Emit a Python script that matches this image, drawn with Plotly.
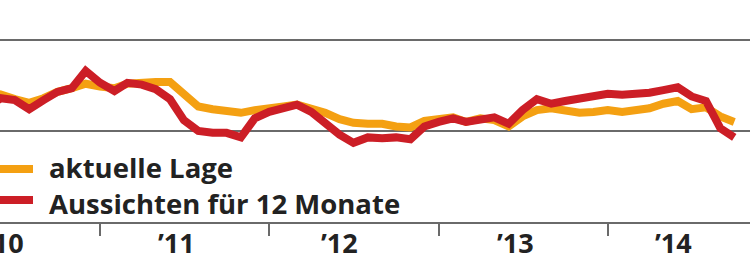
import pandas as pd
import plotly.graph_objects as go

# Monthly observations, May 2010 .. Oct 2014
months = pd.date_range("2010-05-01", "2014-10-01", freq="MS")

aktuelle_lage = [13.2, 14.0, 13.5, 13.1, 13.6, 14.3, 14.7, 15.2, 14.9, 14.7, 15.2, 15.4, 15.4,
                 15.4, 14.0, 12.7, 12.4, 12.2, 12.0, 12.3, 12.6, 12.7, 12.9, 12.5, 12.0,
                 11.3, 10.9, 10.8, 10.8, 10.5, 10.4, 11.1, 11.4, 11.5, 11.0, 11.4, 11.2,
                 10.5, 11.6, 12.3, 12.5, 12.2, 12.0, 12.1, 12.3, 12.1, 12.2, 12.5, 13.0,
                 13.3, 12.4, 12.6, 11.6, 11.0]
aussichten = [12.6, 13.6, 13.4, 12.4, 13.4, 14.3, 14.7, 16.6, 15.3, 14.4, 15.3, 15.1, 14.6,
              13.5, 11.2, 10.0, 9.8, 9.8, 9.3, 11.4, 12.1, 12.5, 12.9, 12.1, 10.9,
              9.6, 8.7, 9.3, 9.2, 9.3, 9.1, 10.5, 11.0, 11.4, 11.0, 11.2, 11.5,
              10.8, 12.3, 13.5, 13.0, 13.3, 13.6, 13.8, 14.1, 14.0, 14.0, 14.2, 14.5,
              14.8, 13.8, 13.3, 10.3, 9.3]

year_ticks = ["2011-01-01", "2012-01-01", "2013-01-01", "2014-01-01"]
year_labels = ["’10", "’11", "’12", "’13", "’14"]
year_label_pos = ["2010-06-10", "2011-06-16", "2012-05-31", "2013-06-15", "2014-05-23"]

series_names = ["aktuelle Lage", "Aussichten für 12 Monate"]
ORANGE = "#F4A012"
RED = "#CC1E26"
TXT = "#222222"
GRID = "#6a6a6a"
FONT = "Open Sans"

fig = go.Figure()
fig.add_trace(go.Scatter(x=months, y=aktuelle_lage, mode="lines",
                         line=dict(color=ORANGE, width=8), name=series_names[0]))
fig.add_trace(go.Scatter(x=months, y=aussichten, mode="lines",
                         line=dict(color=RED, width=8), name=series_names[1]))

fig.update_layout(
    width=750, height=264,
    margin=dict(l=0, r=0, t=0, b=42),
    paper_bgcolor="white", plot_bgcolor="white",
    showlegend=False,
    font=dict(family=FONT, color=TXT),
)
fig.update_xaxes(
    range=["2010-05-30", "2014-11-04"],
    showgrid=False, zeroline=False,
    showline=True, linecolor=GRID, linewidth=2,
    ticks="outside", tickvals=year_ticks, ticklen=12, tickwidth=2, tickcolor=GRID,
    showticklabels=False,
)
fig.update_yaxes(
    range=[0, 24.4], tickvals=[10, 20], showticklabels=False,
    showgrid=True, gridcolor=GRID, gridwidth=2, zeroline=False, showline=False,
)

# year labels
for pos, lab in zip(year_label_pos, year_labels):
    fig.add_annotation(x=pos, y=(222 - 263) / 222, xref="x", yref="paper", text=lab,
                       showarrow=False, xanchor="center", yanchor="bottom",
                       font=dict(family=FONT, size=27, color=TXT, weight=700))

# legend swatches
for i, col in enumerate([ORANGE, RED]):
    ypix = 169 + i * 31
    yp = (222 - ypix) / 222
    fig.add_shape(type="line", xref="paper", yref="paper", x0=-0.01, x1=33 / 750,
                  y0=yp, y1=yp, line=dict(color=col, width=8))

# legend texts (one block, two lines)
fig.add_annotation(x=47 / 750, y=(222 - 185) / 222, xref="paper", yref="paper",
                   text="<br>".join(series_names), align="left",
                   showarrow=False, xanchor="left", yanchor="middle",
                   font=dict(family=FONT, size=27.5, color=TXT, weight=700))

fig.write_html("out.html")
